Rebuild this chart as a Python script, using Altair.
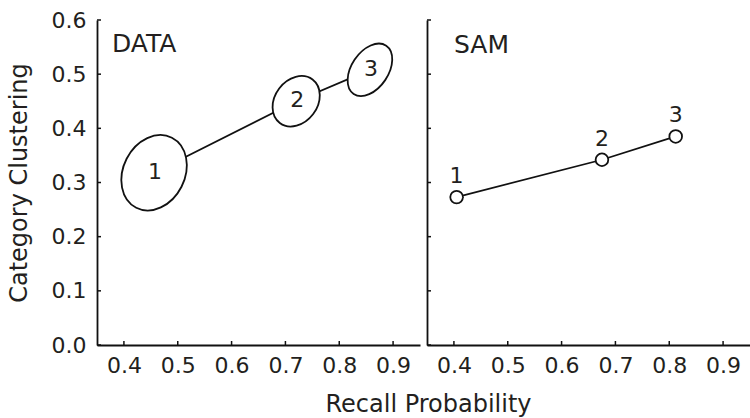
import altair as alt
import pandas as pd

# ---------------- data ----------------
data_labels = ["1", "2", "3"]
data_recall = [0.456, 0.720, 0.857]
data_cluster = [0.318, 0.450, 0.508]

sam_labels = ["1", "2", "3"]
sam_recall = [0.405, 0.675, 0.812]
sam_cluster = [0.273, 0.342, 0.385]

x_ticks = [0.4, 0.5, 0.6, 0.7, 0.8, 0.9]
y_ticks = [0.0, 0.1, 0.2, 0.3, 0.4, 0.5, 0.6]

# ---------------- styles ----------------
FONT = "DejaVu Sans"
INK = "#231f20"
LINE = "#111111"
W, H = 323, 325
TICK = 4
ELL_MAJOR = [39.3, 27.2, 29.1]   # semi-major axis, px
ELL_MINOR = [30.8, 21.3, 18.4]   # semi-minor axis, px
ELL_ANGLE = [27, 37, 34]         # clockwise tilt from vertical, degrees


def ellipse_path(ratio):
    r = f"{ratio:.4f}"
    return f"M 0 -1 A {r} 1 0 1 1 0 1 A {r} 1 0 1 1 0 -1 Z"


xs = alt.Scale(domain=[0.35, 0.95], nice=False, zero=False)
ys = alt.Scale(domain=[0.0, 0.6], nice=False, zero=False)

x_axis = alt.Axis(values=x_ticks, format=".1f", title=None, ticks=False,
                  labelPadding=10, grid=False)


def x_enc():
    return alt.X("x:Q", scale=xs, axis=x_axis)


def y_enc(show):
    if show:
        ax = alt.Axis(values=y_ticks, format=".1f", title="Category Clustering",
                      ticks=False, labelPadding=11, titlePadding=20, grid=False)
    else:
        ax = alt.Axis(values=y_ticks, labels=False, title=None, ticks=False, grid=False)
    return alt.Y("y:Q", scale=ys, axis=ax)


def tick_layers(show):
    xt = alt.Chart(pd.DataFrame({"x": x_ticks})).mark_rule(
        color=LINE, strokeWidth=1.5).encode(
        x=x_enc(), y=alt.value(H), y2=alt.value(H - TICK))
    yt = alt.Chart(pd.DataFrame({"y": y_ticks})).mark_rule(
        color=LINE, strokeWidth=1.5).encode(
        y=y_enc(show), x=alt.value(0), x2=alt.value(TICK))
    return [xt, yt]


def panel_title(text, px, py):
    return alt.Chart(pd.DataFrame({"t": [text]})).mark_text(
        font=FONT, fontSize=25, color=INK, align="left", baseline="middle").encode(
        x=alt.value(px), y=alt.value(py), text="t:N")


# ---- DATA panel ----
df_data = pd.DataFrame({
    "x": data_recall, "y": data_cluster, "lab": data_labels,
    "size": [(2 * a) ** 2 for a in ELL_MAJOR],
    "ang": ELL_ANGLE,
})
paths = [ellipse_path(b / a) for a, b in zip(ELL_MAJOR, ELL_MINOR)]

data_line = alt.Chart(df_data).mark_line(color=LINE, strokeWidth=1.8).encode(
    x=x_enc(), y=y_enc(True), order="x:Q")
data_ell = alt.Chart(df_data).mark_point(
    filled=True, fill="white", stroke=LINE, strokeWidth=1.8, opacity=1).encode(
    x=x_enc(), y=y_enc(True),
    shape=alt.Shape("lab:N", scale=alt.Scale(domain=data_labels, range=paths), legend=None),
    size=alt.Size("size:Q", scale=None, legend=None),
    angle=alt.Angle("ang:Q", scale=None),
)
data_txt = alt.Chart(df_data).mark_text(
    font=FONT, fontSize=22, color=INK, baseline="middle", dx=1, dy=-1).encode(
    x=x_enc(), y=y_enc(True), text="lab:N")

left = alt.layer(
    *tick_layers(True), data_line, data_ell, data_txt, panel_title("DATA", 15, 24)
).properties(width=W, height=H)

# ---- SAM panel ----
df_sam = pd.DataFrame({"x": sam_recall, "y": sam_cluster, "lab": sam_labels})
sam_line = alt.Chart(df_sam).mark_line(color=LINE, strokeWidth=1.8).encode(
    x=x_enc(), y=y_enc(False), order="x:Q")
sam_pts = alt.Chart(df_sam).mark_point(
    filled=True, fill="white", stroke=LINE, strokeWidth=1.8, opacity=1, size=160,
    shape="circle").encode(x=x_enc(), y=y_enc(False))
sam_txt = alt.Chart(df_sam).mark_text(
    font=FONT, fontSize=22, color=INK, baseline="middle", dy=-21).encode(
    x=x_enc(), y=y_enc(False), text="lab:N")

right = alt.layer(
    *tick_layers(False), sam_line, sam_pts, sam_txt, panel_title("SAM", 27, 25)
).properties(width=W, height=H)

chart = alt.hconcat(left, right, spacing=6).properties(
    padding={"left": 7, "top": 9, "right": 0, "bottom": 0},
    title=alt.TitleParams("Recall Probability", orient="bottom", anchor="middle",
                          dx=50, fontSize=24, font=FONT, color=INK,
                          fontWeight="normal", offset=17),
).configure_view(stroke=None).configure_axis(
    domainColor=LINE, domainWidth=1.8, labelColor=INK, labelFont=FONT,
    labelFontSize=22, titleFont=FONT, titleFontSize=24, titleColor=INK,
    titleFontWeight="normal",
)

chart.save("out.html", embed_options={"renderer": "svg", "actions": False})
